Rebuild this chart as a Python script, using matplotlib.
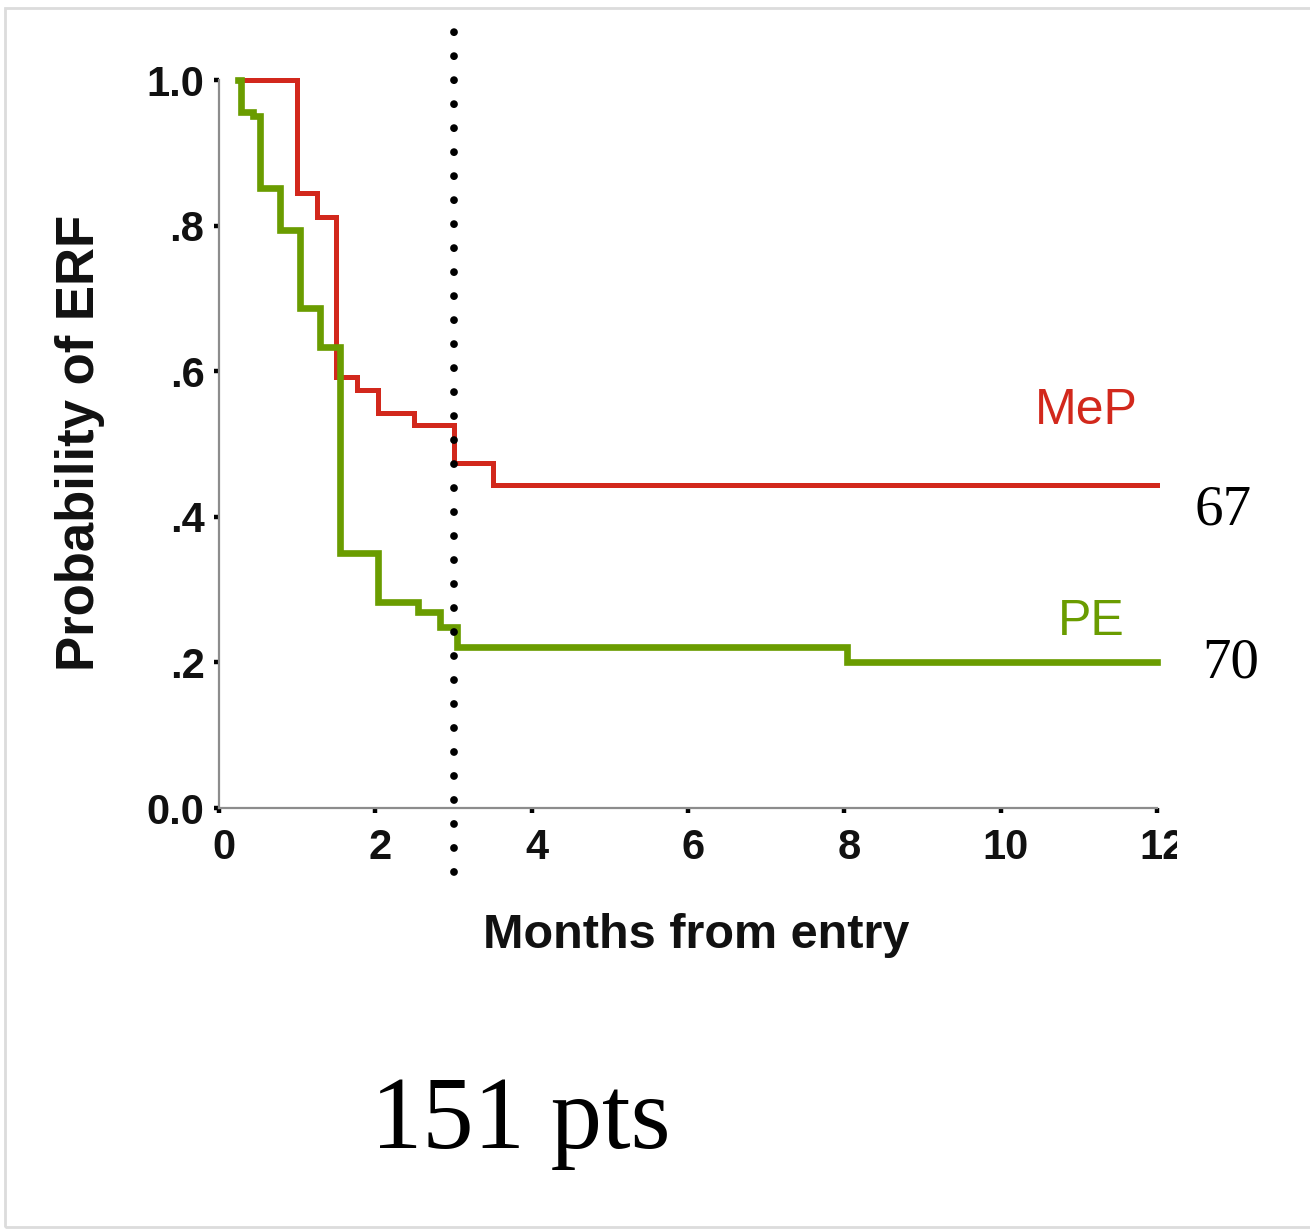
import matplotlib
matplotlib.use('Agg')
import matplotlib.pyplot as plt
from matplotlib.patches import Rectangle
from matplotlib.transforms import ScaledTranslation

# Kaplan-Meier style step data (months, probability of ERF)
mep_t = [0.24, 1.0, 1.25, 1.5, 1.76, 2.03, 2.5, 3.0, 3.5, 12.0]
mep_s = [1.0, 0.845, 0.812, 0.592, 0.574, 0.543, 0.526, 0.474, 0.444, 0.444]

pe_t = [0.24, 0.28, 0.43, 0.52, 0.78, 1.04, 1.29, 1.55, 2.03, 2.54, 2.83, 3.04, 8.04, 12.0]
pe_s = [1.0, 0.956, 0.950, 0.852, 0.794, 0.687, 0.633, 0.350, 0.283, 0.269, 0.249, 0.221, 0.200, 0.200]

cutoff = 3.0
x_ticks = [0, 2, 4, 6, 8, 10, 12]
y_ticks = [0.0, 0.2, 0.4, 0.6, 0.8, 1.0]
y_ticklabels = ['0.0', '.2', '.4', '.6', '.8', '1.0']
n_mep = '67'
n_pe = '70'
total = '151 pts'

red = '#d2281c'
green = '#6a9c00'
sans = 'Liberation Sans'
serif = 'Liberation Serif'

W, H = 1310, 1229
fig = plt.figure(figsize=(W / 100, H / 100), dpi=100)

# light frame of the screenshot
fig.patches.append(Rectangle((5 / W, 2 / H), 1.0, 1 - 10 / H, transform=fig.transFigure,
                             fill=False, edgecolor='#dcdcdc', lw=2))

ax = fig.add_axes([219 / W, 1 - 808 / H, (1157 - 219) / W, (808 - 80) / H])
ax.set_xlim(0, 12)
ax.set_ylim(0, 1)

ax.plot(mep_t, mep_s, drawstyle='steps-post', color=red, lw=3.6, clip_on=False,
        solid_joinstyle='miter', zorder=3)
ax.plot(pe_t, pe_s, drawstyle='steps-post', color=green, lw=4.8, clip_on=False,
        solid_joinstyle='miter', zorder=3)

# dotted 3-month marker
ax.plot([cutoff, cutoff], [-0.0879, 1.0665], color='black', lw=5.6,
        linestyle=(0, (0.01, 3.075)), dash_capstyle='round', clip_on=False, zorder=4)

for s in ['top', 'right']:
    ax.spines[s].set_visible(False)
for s in ['left', 'bottom']:
    ax.spines[s].set_color('#8c8c8c')
    ax.spines[s].set_linewidth(1.6)

ax.set_xticks(x_ticks)
ax.set_yticks(y_ticks)
ax.set_yticklabels(y_ticklabels)
ax.tick_params(axis='both', direction='out', length=3.5, width=3.2, color='black')
ax.tick_params(axis='y', pad=7)
ax.tick_params(axis='x', pad=11)
for lab in ax.get_xticklabels() + ax.get_yticklabels():
    lab.set_fontfamily(sans)
    lab.set_fontweight('bold')
    lab.set_fontsize(30)
    lab.set_color('#111111')
shift = ScaledTranslation(5 / 100, 0, fig.dpi_scale_trans)
for lab in ax.get_xticklabels():
    lab.set_transform(lab.get_transform() + shift)

# the "12" label is cut by the crop of the original picture
fig.patches.append(Rectangle((1177 / W, 1 - 880 / H), 120 / W, 62 / H,
                             transform=fig.transFigure, facecolor='white',
                             edgecolor='none', zorder=10))

fig.text(80 / W, 1 - 443 / H, 'Probability of ERF', rotation=90, ha='center', va='center',
         family=sans, weight='bold', fontsize=38, color='#111111')
fig.text(696 / W, 1 - 935 / H, 'Months from entry', ha='center', va='center',
         family=sans, weight='bold', fontsize=35, color='#111111')

ax.text(11.09, 0.527, 'MeP', color=red, family=sans, fontsize=36, ha='center',
        va='baseline', clip_on=False)
ax.text(11.16, 0.238, 'PE', color=green, family=sans, fontsize=36, ha='center',
        va='baseline', clip_on=False)
ax.text(12.84, 0.389, n_mep, color='black', family=serif, fontsize=41, ha='center',
        va='baseline', clip_on=False)
ax.text(12.94, 0.179, n_pe, color='black', family=serif, fontsize=41, ha='center',
        va='baseline', clip_on=False)

fig.text(521 / W, 1 - 1148 / H, total, ha='center', va='baseline', family=serif,
         fontsize=74, color='black')

fig.savefig('out.png', dpi=100)
